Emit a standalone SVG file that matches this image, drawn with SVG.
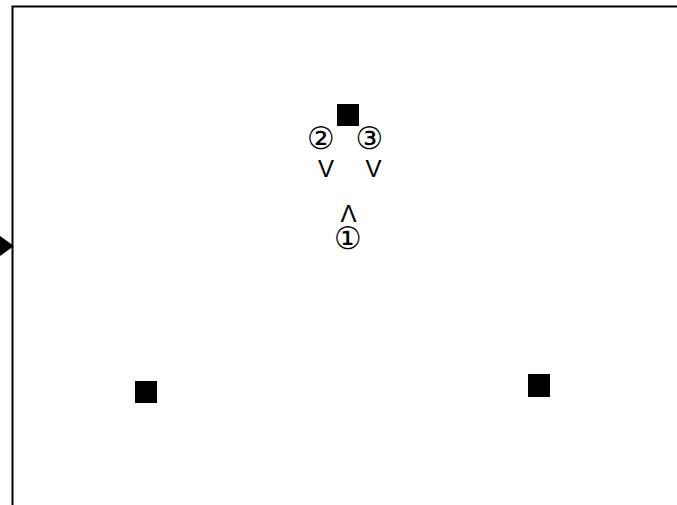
<svg xmlns="http://www.w3.org/2000/svg" width="677" height="505" viewBox="0 0 677 505">
<style>
.n{fill:#000}
.t{font-family:"Liberation Sans",Arial,sans-serif;font-size:24px;fill:#000;text-anchor:middle}
.c{font-family:"DejaVu Sans",sans-serif;font-size:31px;fill:#000;text-anchor:middle;dominant-baseline:central}
.e{stroke:#000;fill:none}
</style>
<rect width="677" height="505" fill="#fff"/>
<g id="connectors">
<path class="e" d="M12.5,505 V6.5 H677" stroke-width="2"/>
<polygon points="0,236 14,246 0,256" fill="#000"/>
</g>
<g id="node-top"><rect class="n" x="337" y="104" width="22" height="22"/></g>
<g id="node-left"><rect class="n" x="135" y="381" width="22" height="22"/></g>
<g id="node-right"><rect class="n" x="528" y="374" width="22" height="23"/></g>
<g id="label-2"><text class="c" x="321" y="137.5">②</text><text class="t" x="326" y="177">V</text></g>
<g id="label-3"><text class="c" x="369.5" y="137.5">③</text><text class="t" x="373.5" y="177">V</text></g>
<g id="label-1"><text class="t" x="348.5" y="222">Λ</text><text class="c" x="348" y="237.5">①</text></g>
</svg>
